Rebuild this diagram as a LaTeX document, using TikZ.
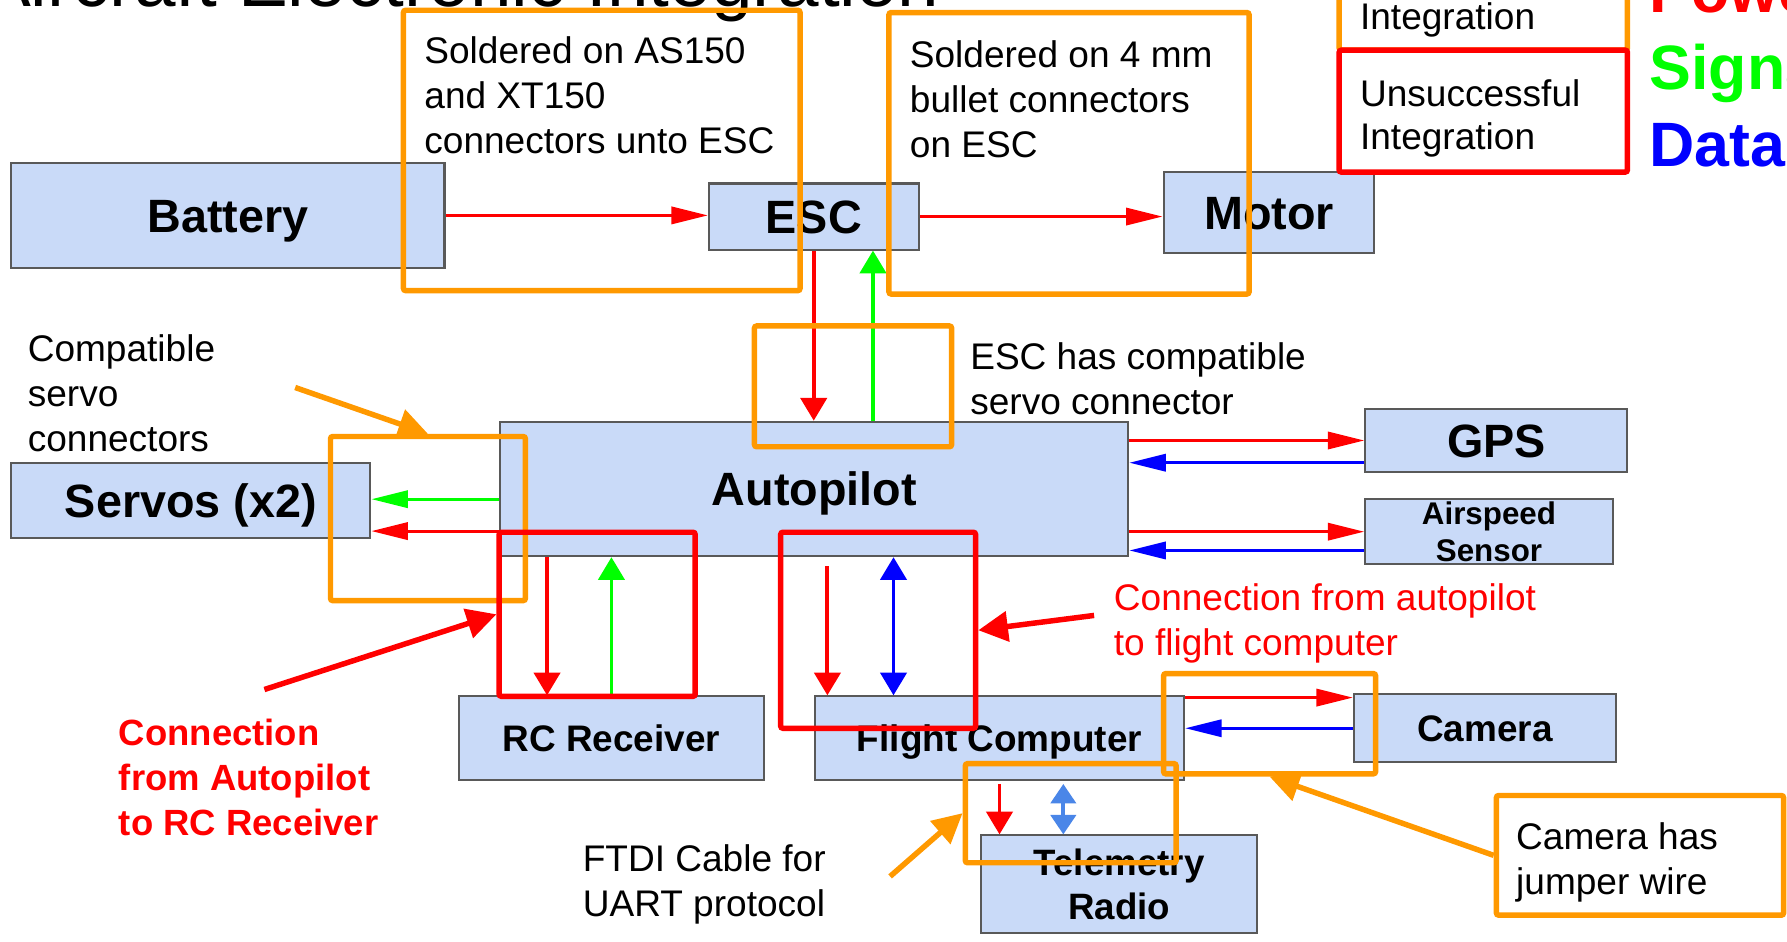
\documentclass[tikz,border=0pt]{standalone}
\usepackage{fontspec}
\setmainfont{Liberation Sans}
\usetikzlibrary{arrows.meta,calc}
\definecolor{boxfill}{HTML}{C9DAF8}
\definecolor{boxline}{HTML}{595959}
\definecolor{frameorange}{HTML}{FF9900}
\definecolor{pwr}{HTML}{FF0000}
\definecolor{sig}{HTML}{00FF00}
\definecolor{dat}{HTML}{0000FF}
\definecolor{uart}{HTML}{4A86E8}
\begin{document}
\begin{tikzpicture}[x=0.5pt,y=-0.5pt,
  blk/.style={draw=boxline, line width=0.9pt, fill=boxfill, inner sep=0pt,
    font=\bfseries\fontsize{20.5}{24}\selectfont, text height=14.7pt, text depth=0pt},
  blks/.style={blk, font=\bfseries\fontsize{16.2}{19}\selectfont, text height=11.6pt},
  blkm/.style={draw=boxline, line width=0.9pt, fill=boxfill, inner sep=0pt, align=center},
  harr/.style={line width=1.4pt, -{Triangle[length=16pt,width=7.5pt]}},
  varr/.style={line width=1.7pt, -{Triangle[length=10pt,width=11.5pt]}},
  vdarr/.style={line width=1.7pt, {Triangle[length=10pt,width=11.5pt]}-{Triangle[length=10pt,width=11.5pt]}},
  tdarr/.style={line width=1.7pt, {Triangle[length=8.5pt,width=11pt]}-{Triangle[length=8.5pt,width=11pt]}},
  oframe/.style={draw=frameorange, line width=2.4pt, rounded corners=1pt, inner sep=0pt},
  rframe/.style={draw=pwr, line width=2.4pt, rounded corners=1pt, inner sep=0pt},
  ann/.style={line width=2.4pt, -{Triangle[length=13pt,width=13pt]}},
  % multi-line notes are placed by the baseline of their last line
  note/.style={anchor=base west, inner sep=0pt, align=left, font=\fontsize{16.25}{19.75}\selectfont},
  legend/.style={anchor=base west, inner sep=0pt, font=\bfseries\fontsize{27.5}{30}\selectfont}
]
\clip (0,0) rectangle (1568,826);
\fill[white] (0,0) rectangle (1568,826);

% title
\node[anchor=base west, inner sep=0pt, font=\fontsize{32.75}{36}\selectfont] (title) at (-17,5.5) {Aircraft Electronic Integration};

% components
\node[blk, minimum width=190pt, minimum height=46pt] (battery) at (200,189) {Battery};
\node[blk, minimum width=92pt, minimum height=29pt] (esc) at (714,190) {ESC};
\node[blk, minimum width=92.5pt, minimum height=35.5pt] (motor) at (1113.5,186.5) {Motor};
\node[blk, minimum width=275.5pt, minimum height=59pt] (autopilot) at (714.5,429) {Autopilot};
\node[blk, minimum width=157.5pt, minimum height=33pt] (servos) at (167.5,439) {Servos (x2)};
\node[blk, minimum width=115pt, minimum height=27.5pt] (gps) at (1313,386.5) {GPS};
\node[blkm, font=\bfseries\fontsize{13.75}{16.3}\selectfont, minimum width=108.5pt, minimum height=28.5pt] (airspeed) at (1306.5,466.5) {Airspeed\\Sensor};
\node[blks, minimum width=133.5pt, minimum height=36.5pt] (rc) at (536.5,647.5) {RC Receiver};
\node[blks, minimum width=162pt, minimum height=36.5pt] (fc) at (877,647.5) {Flight Computer};
\node[blks, minimum width=115pt, minimum height=30pt] (camera) at (1303,639) {Camera};
\node[blkm, font=\bfseries\fontsize{16.1}{19}\selectfont, minimum width=121pt, minimum height=43pt] (tele) at (982,776) {Telemetry\\Radio};

% connection points
\coordinate (escg) at ($(esc.south)+(52,0)$);
\coordinate (apsg) at ($(autopilot.west)+(0,9)$);
\coordinate (apsp) at ($(autopilot.west)+(0,37)$);
\coordinate (gpsd) at ($(gps.west)+(0,19.5)$);
\coordinate (asd) at ($(airspeed.west)+(0,16.5)$);
\coordinate (rcp) at ($(rc.north)+(-56.5,0)$);
\coordinate (fcp) at ($(fc.north)+(-151,0)$);
\coordinate (fcd) at ($(fc.north)+(-93,0)$);
\coordinate (fccp) at ($(fc.north east)+(0,2)$);
\coordinate (fct) at ($(fc.south)+(56,0)$);

% power / signal / data links
\draw[harr,pwr] (battery.east) -- (battery.east -| esc.west);
\draw[harr,pwr] (esc.east) -- (esc.east -| motor.west);
\draw[varr,pwr] (esc.south) -- (esc.south |- autopilot.north);
\draw[varr,sig] (escg |- autopilot.north) -- (escg);
\draw[harr,sig] (apsg) -- (apsg -| servos.east);
\draw[harr,pwr] (apsp) -- (apsp -| servos.east);
\draw[harr,pwr] (autopilot.east |- gps.west) -- (gps.west);
\draw[harr,dat] (gpsd) -- (gpsd -| autopilot.east);
\draw[harr,pwr] (autopilot.east |- airspeed.west) -- (airspeed.west);
\draw[harr,dat] (asd) -- (asd -| autopilot.east);
\draw[varr,pwr] (rcp |- autopilot.south) -- (rcp);
\draw[varr,sig] (rc.north) -- (rc.north |- autopilot.south);
\draw[varr,pwr,shorten <=4pt] (fcp |- autopilot.south) -- (fcp);
\draw[vdarr,dat] (fcd |- autopilot.south) -- (fcd);
\draw[harr,pwr] (fccp) -- (fccp -| camera.west);
\draw[harr,dat] (camera.west) -- (camera.west -| fc.east);
\draw[varr,pwr,shorten <=1.5pt] (fc.south) -- (fc.south |- tele.north);
\draw[tdarr,uart,shorten <=1.5pt] (fct) -- (fct |- tele.north);

% integration frames
\node[oframe, minimum width=174pt, minimum height=123pt] (fsolder) at (528,132) {};
\node[oframe, minimum width=158pt, minimum height=123.5pt] (fbullet) at (938,134.5) {};
\node[oframe, minimum width=86.5pt, minimum height=53pt] (fescap) at (748.5,339) {};
\node[oframe, minimum width=85.5pt, minimum height=72pt] (fservo) at (375.5,455) {};
\node[oframe, minimum width=93pt, minimum height=44pt] (fcam) at (1114,635) {};
\node[oframe, minimum width=92.5pt, minimum height=43.5pt] (fftdi) at (939.5,713.5) {};
\node[oframe, minimum width=126pt, minimum height=52.5pt] (fjumper) at (1439,750.5) {};
\node[rframe, minimum width=86pt, minimum height=72pt] (frc) at (524,539) {};
\node[rframe, minimum width=85.5pt, minimum height=86pt] (ffc) at (770.5,553) {};

% legend frames
\node[oframe, minimum width=126.5pt, minimum height=37pt] (lgood) at (1301.5,7) {};
\node[rframe, minimum width=126.5pt, minimum height=53.5pt] (lbad) at (1301.5,97.5) {};

% annotation pointers
\coordinate (pservo) at (259,340);
\coordinate (prc) at (232,605);
\coordinate (pfc) at (960,540);
\coordinate (pftdi) at (781,769);
\draw[ann,frameorange] (pservo) -- (fservo.north);
\draw[ann,frameorange] (pftdi) -- (fftdi.west);
\draw[ann,frameorange] (fjumper.west) -- (fcam.south);
\draw[ann,pwr] (prc) -- (frc.west);
\draw[ann,pwr] (pfc) -- (ffc.east);

% notes
\node[note] (nsolder) at (372,135) {Soldered on AS150\\and XT150\\connectors unto ESC};
\node[note] (nbullet) at (798,138) {Soldered on 4 mm\\bullet connectors\\on ESC};
\node[note] (nservo) at (24,396) {Compatible\\servo\\connectors};
\node[note] (nesc) at (851,364) {ESC has compatible\\servo connector};
\node[note, text=pwr] (nfc) at (977,575) {Connection from autopilot\\to flight computer};
\node[note, text=pwr, font=\bfseries\fontsize{16}{19.75}\selectfont] (nrc) at (104,733) {Connection\\from Autopilot\\to RC Receiver};
\node[note] (nftdi) at (511,804.5) {FTDI Cable for\\UART protocol};
\node[note] (njumper) at (1330,785) {Camera has\\jumper wire};

% legend
\node[note] (tgood) at (1193,26) {Integration};
\node[note, font=\fontsize{16.25}{19}\selectfont] (tbad) at (1193,131.5) {Unsuccessful\\Integration};
\node[legend, text=pwr] (lpow) at (1447,11) {Power};
\node[legend, text=sig] (lsig) at (1447,78.6) {Signal};
\node[legend, text=dat] (ldat) at (1447,146.5) {Data};
\end{tikzpicture}
\end{document}
